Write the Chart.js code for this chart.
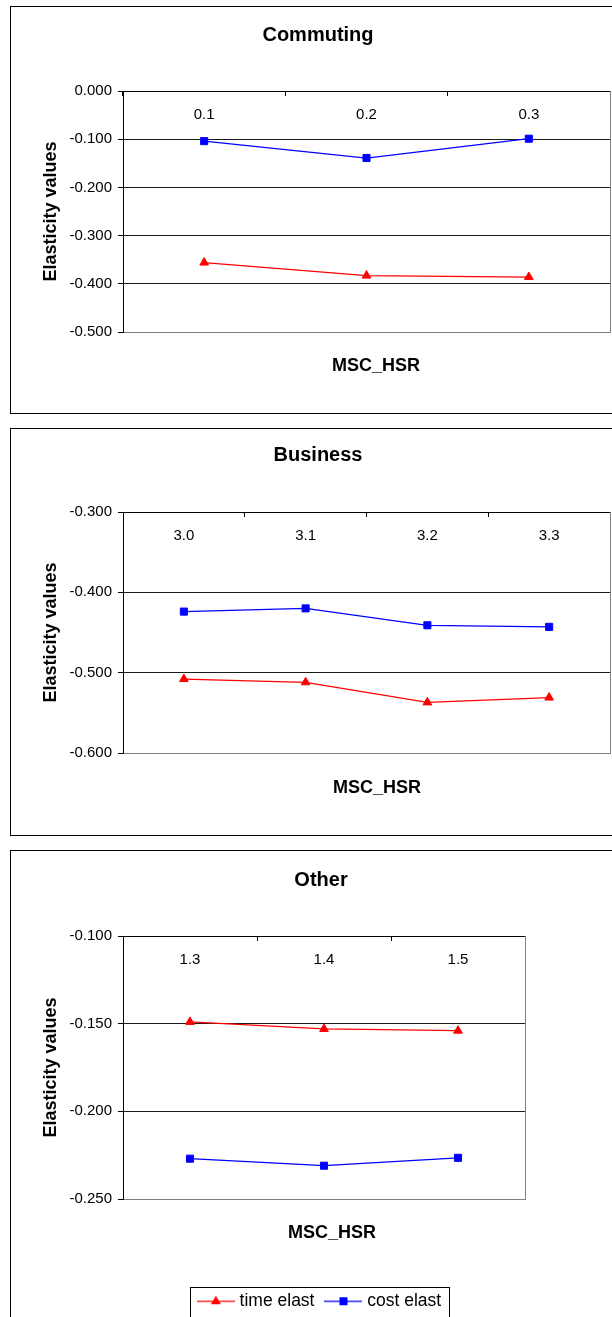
<!DOCTYPE html>
<html lang="en">
<head>
    <meta charset="UTF-8">
    <title>Elasticity values by MSC_HSR</title>
    <script src="https://cdn.jsdelivr.net/npm/chart.js"></script>
    <style>
        html, body {
            margin: 0;
            padding: 0;
            background: #fff;
        }
        body {
            width: 612px;
            height: 1317px;
            overflow: hidden;
            position: relative;
        }
        .box {
            position: absolute;
            left: 10px;
            border: 1px solid #000;
            background: #fff;
        }
        .box canvas {
            display: block;
        }
    </style>
</head>
<body>
    <div class="box" style="top:6px"><canvas id="commuting" width="614" height="406"></canvas></div>
    <div class="box" style="top:428px"><canvas id="business" width="614" height="406"></canvas></div>
    <div class="box" style="top:850px"><canvas id="other" width="620" height="469"></canvas></div>

    <script>
        const seriesNames = ['time elast', 'cost elast'];

        const commutingLabels = ['0.1', '0.2', '0.3'];
        const commutingTime = [-0.356, -0.383, -0.386];
        const commutingCost = [-0.104, -0.139, -0.099];
        const commutingAxis = [-0.5, 0, 0.1];      // min, max, step

        const businessLabels = ['3.0', '3.1', '3.2', '3.3'];
        const businessTime = [-0.508, -0.512, -0.537, -0.531];
        const businessCost = [-0.424, -0.420, -0.441, -0.443];
        const businessAxis = [-0.6, -0.3, 0.1];

        const otherLabels = ['1.3', '1.4', '1.5'];
        const otherTime = [-0.149, -0.153, -0.154];
        const otherCost = [-0.227, -0.231, -0.2265];
        const otherAxis = [-0.25, -0.1, 0.05];

        Chart.defaults.font.family = '"Liberation Sans", Arial, sans-serif';
        Chart.defaults.color = '#000';

        // little line + marker pictures for the legend
        function legendIcon(color, shape) {
            const c = document.createElement('canvas');
            c.width = 38;
            c.height = 14;
            const g = c.getContext('2d');
            g.strokeStyle = color;
            g.fillStyle = color;
            g.lineWidth = 1.25;
            g.beginPath();
            g.moveTo(0, 7);
            g.lineTo(38, 7);
            g.stroke();
            g.beginPath();
            if (shape === 'triangle') {
                g.moveTo(19, 1.5);
                g.lineTo(24, 10);
                g.lineTo(14, 10);
            } else {
                g.rect(15, 3, 8, 8);
            }
            g.closePath();
            g.fill();
            return c;
        }
        const legendIcons = [legendIcon('#ff0000', 'triangle'), legendIcon('#0000ff', 'rect')];

        // grey right edge of the plot area (Excel style)
        const frame = {
            id: 'frame',
            beforeDatasetsDraw(chart) {
                const {ctx, chartArea: a} = chart;
                ctx.save();
                ctx.strokeStyle = '#808080';
                ctx.lineWidth = 1;
                ctx.beginPath();
                ctx.moveTo(Math.round(a.right) + 0.5, a.top);
                ctx.lineTo(Math.round(a.right) + 0.5, a.bottom + 1);
                ctx.stroke();
                ctx.restore();
            }
        };

        // move the MSC_HSR title a bit right, like the original
        const shift = {
            id: 'shift',
            afterLayout(chart, args, opts) {
                const xb = chart.scales.xb;
                xb.left += opts.dx;
                xb.right += opts.dx;
            }
        };

        // box around the legend
        const legendFrame = {
            id: 'legendFrame',
            afterDraw(chart) {
                const lg = chart.legend;
                if (!lg || !lg.options.display) return;
                const hb = lg.legendHitBoxes;
                const first = hb[0], last = hb[hb.length - 1];
                const l = Math.round(first.left - 11) + 0.5;
                const r = Math.round(last.left + last.width + 8) + 0.5;
                const t = Math.round(first.top - 6) + 0.5;
                const ctx = chart.ctx;
                ctx.save();
                ctx.strokeStyle = '#000';
                ctx.lineWidth = 1;
                ctx.strokeRect(l, t, r - l, 60);
                ctx.restore();
            }
        };

        function makeChart(id, o) {
            return new Chart(document.getElementById(id), {
                type: 'line',
                data: {
                    labels: o.labels,
                    datasets: [
                        {
                            label: seriesNames[0],
                            data: o.time,
                            xAxisID: 'x',
                            yAxisID: 'y',
                            borderColor: '#ff0000',
                            backgroundColor: '#ff0000',
                            borderWidth: 1.25,
                            pointStyle: 'triangle',
                            pointRadius: 5,
                            pointBorderWidth: 1,
                            tension: 0
                        },
                        {
                            label: seriesNames[1],
                            data: o.cost,
                            xAxisID: 'x',
                            yAxisID: 'y',
                            borderColor: '#0000ff',
                            backgroundColor: '#0000ff',
                            borderWidth: 1.25,
                            pointStyle: 'rect',
                            pointRadius: 5,
                            pointBorderWidth: 1,
                            tension: 0
                        }
                    ]
                },
                options: {
                    responsive: false,
                    animation: false,
                    events: [],
                    plugins: {
                        title: {
                            display: true,
                            text: o.title,
                            color: '#000',
                            font: {size: 20, weight: 'bold'},
                            padding: {top: o.titleTop, bottom: o.titleBottom}
                        },
                        legend: o.legend ? {
                            display: true,
                            position: 'bottom',
                            labels: {
                                usePointStyle: true,
                                pointStyleWidth: 30,
                                padding: 14,
                                color: '#000',
                                font: {size: 17.5},
                                generateLabels(chart) {
                                    const items = Chart.defaults.plugins.legend.labels.generateLabels(chart);
                                    items.forEach((it, i) => { it.pointStyle = legendIcons[i]; });
                                    return items;
                                }
                            }
                        } : {display: false},
                        tooltip: {enabled: false},
                        shift: {dx: o.dx}
                    },
                    scales: {
                        // category axis sits on the top edge, labels hang inside the plot
                        x: {
                            type: 'category',
                            position: 'top',
                            offset: true,
                            grid: {
                                display: true,
                                drawOnChartArea: false,
                                drawTicks: true,
                                tickLength: -5,
                                tickColor: '#000',
                                offset: true
                            },
                            border: {color: '#000', width: 1},
                            ticks: {
                                color: '#000',
                                font: {size: 15},
                                mirror: true,
                                padding: 15,
                                maxRotation: 0,
                                autoSkip: false
                            },
                            afterFit(s) { s.height = 0; }
                        },
                        xb: {
                            type: 'category',
                            position: 'bottom',
                            offset: true,
                            grid: {display: false},
                            border: {display: false},
                            ticks: {display: false},
                            title: {
                                display: true,
                                text: 'MSC_HSR',
                                color: '#000',
                                font: {size: 18, weight: 'bold'},
                                padding: {top: 0, bottom: o.xbPad}
                            },
                            afterFit(s) { s.height = o.xbHeight; }
                        },
                        y: {
                            type: 'linear',
                            position: 'left',
                            min: o.axis[0],
                            max: o.axis[1],
                            ticks: {
                                stepSize: o.axis[2],
                                color: '#000',
                                font: {size: 15},
                                padding: 6,
                                callback: v => v.toFixed(3)
                            },
                            grid: {
                                color: c => c.index === 0 ? '#808080' : '#1a1a1a',
                                tickColor: '#000',
                                tickLength: 5,
                                lineWidth: 1
                            },
                            border: {color: '#000', width: 1},
                            title: {
                                display: true,
                                text: 'Elasticity values',
                                color: '#000',
                                font: {size: 18, weight: 'bold'},
                                padding: {top: 29.2, bottom: 0}
                            },
                            afterFit(s) { s.width = 112; }
                        },
                        yr: {
                            type: 'linear',
                            position: 'right',
                            grid: {display: false},
                            border: {display: false},
                            ticks: {display: false},
                            afterFit(s) { s.width = o.rightGap; }
                        }
                    }
                },
                plugins: [frame, shift, legendFrame]
            });
        }

        makeChart('commuting', {
            title: 'Commuting', labels: commutingLabels, time: commutingTime, cost: commutingCost,
            axis: commutingAxis, titleTop: 16, titleBottom: 44, xbHeight: 81, xbPad: 36.2,
            dx: 9.5, rightGap: 15, legend: false
        });
        makeChart('business', {
            title: 'Business', labels: businessLabels, time: businessTime, cost: businessCost,
            axis: businessAxis, titleTop: 14, titleBottom: 45, xbHeight: 82, xbPad: 36.2,
            dx: 10.5, rightGap: 15, legend: false
        });
        makeChart('other', {
            title: 'Other', labels: otherLabels, time: otherTime, cost: otherCost,
            axis: otherAxis, titleTop: 17, titleBottom: 44, xbHeight: 79.5, xbPad: 34.7,
            dx: 8, rightGap: 106, legend: true
        });
    </script>
</body>
</html>
